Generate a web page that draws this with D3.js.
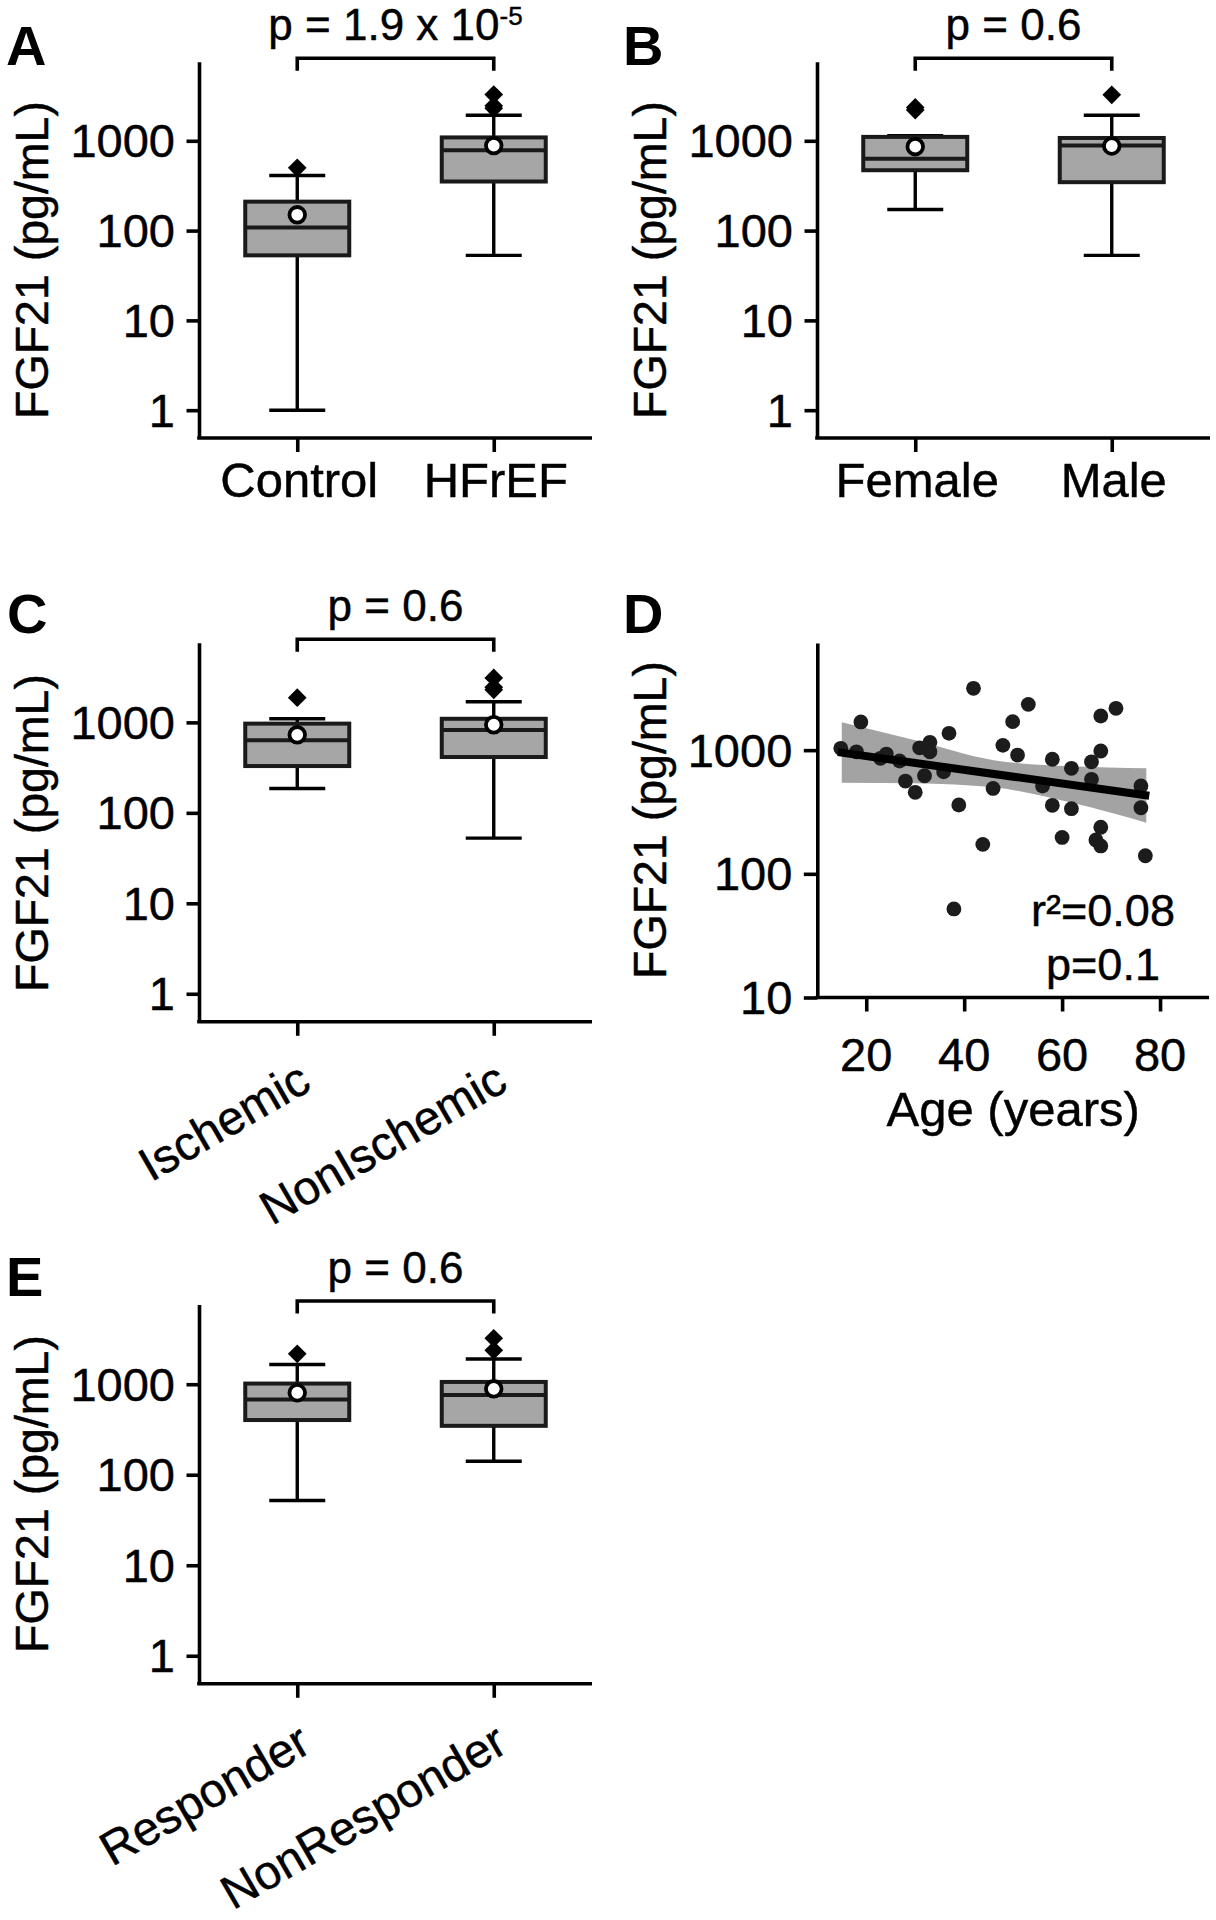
<!DOCTYPE html>
<html><head><meta charset="utf-8">
<script src="https://cdn.jsdelivr.net/npm/d3@7"></script>
<style>html,body{margin:0;padding:0;background:#fff}</style>
</head><body>
<svg id="fig" width="1216" height="1920"></svg>
<script>
// ---------------- data ----------------
const yTickValues = [1, 10, 100, 1000];
const yTickLabels = ["1", "10", "100", "1000"];
const yDomain = [0.49, 7600];

// five-number summaries per category: [whiskerLow, Q1, median, Q3, whiskerHigh]
const catsA = ["Control", "HFrEF"];
const fiveA = [[1, 53, 108, 210, 411], [53, 352, 783, 1090, 1924]];
const meanA = [150, 885];
const outA = [[500], [2300, 2450, 3270]];
const pTextA = "p = 1.9 x 10";
const pSupA = "-5";

const catsB = ["Female", "Male"];
const fiveB = [[172, 470, 633, 1105, 1143], [53, 346, 885, 1075, 1924]];
const meanB = [860, 875];
const outB = [[2200, 2350], [3250]];
const pTextB = "p = 0.6";

const catsC = ["Ischemic", "NonIschemic"];
const fiveC = [[186, 329, 633, 969, 1096], [52.5, 414, 826, 1096, 1693]];
const meanC = [729, 941];
const outC = [[1875], [2290, 2450, 3100]];
const pTextC = "p = 0.6";

const catsE = ["Responder", "NonResponder"];
const fiveE = [[52, 402, 676, 1017, 1650], [141, 347, 762, 1060, 1900]];
const meanE = [805, 890];
const outE = [[2170], [2370, 3220]];
const pTextE = "p = 0.6";

// panel D scatter
const ageD = [14.8, 18.9, 18.0, 22.9, 24.1, 26.8, 28.0, 30.0, 30.9, 31.9, 33.0, 33.0, 35.8, 36.9, 38.9, 37.9,
              41.9, 43.8, 45.9, 47.9, 49.9, 50.9, 53.1, 56.0, 58.0, 58.0, 61.9, 61.9, 60.0, 66.0, 66.0, 67.9,
              67.9, 71.0, 67.9, 66.9, 67.9, 76.1, 76.1, 77.0];
const fgfD = [1035, 1690, 970, 859, 929, 817, 562, 456, 1045, 621, 1156, 970, 669, 1368, 360, 52,
              3160, 173, 490, 1093, 1700, 912, 2345, 513, 844, 358, 713, 336, 197, 805, 581, 984,
              1888, 2178, 238, 188, 168, 513, 342, 140];
const fitAge = [14.2, 77.8];
const fitVal = [964, 428];
const ciAge = [15, 30, 46, 62, 77.2];
const ciUpper = [1680, 1200, 830, 740, 713];
const ciLower = [546, 540, 500, 375, 259];
const xTicksD = [20, 40, 60, 80];
const yTicksD = [10, 100, 1000];
const statsD = ["r\u00b2=0.08", "p=0.1"];

// ---------------- drawing ----------------
const FONT = '"Liberation Sans", Arial, Helvetica, sans-serif';
const svg = d3.select("#fig").style("font-family", FONT);
const BOXFILL = "#a6a6a6", DARK = "#1a1a1a";

function txt(g, x, y, s, size, opts = {}) {
  const t = g.append("text").attr("x", x).attr("y", y).text(s)
    .attr("font-size", size).attr("fill", "#000")
    .attr("stroke", "#000").attr("stroke-width", opts.weight ? 0 : 0.45)
    .attr("text-anchor", opts.anchor || "start");
  if (opts.weight) t.attr("font-weight", opts.weight);
  if (opts.transform) t.attr("transform", opts.transform);
  return t;
}

function styleAxis(ax) {
  ax.select(".domain").attr("stroke", "#000").attr("stroke-width", 3.6);
  ax.selectAll(".tick line").attr("stroke", "#000").attr("stroke-width", 3.6);
  ax.selectAll(".tick text").remove();
}

function boxPanel(o) {
  const g = svg.append("g");
  const x = d3.scalePoint().domain(o.cats).range([o.x0, o.x1]).padding(0.5);
  const y = d3.scaleLog().domain(yDomain).range([o.y1, o.y0]);

  // y axis
  const ay = g.append("g").attr("transform", `translate(${o.x0},0)`)
    .call(d3.axisLeft(y).tickValues(yTickValues).tickSize(12.5).tickSizeOuter(0));
  styleAxis(ay);
  yTickValues.forEach((v, i) => {
    txt(g, o.x0 - 24, y(v) + 16.5, yTickLabels[i], 47, {anchor: "end"});
  });
  // x axis
  const ax = g.append("g").attr("transform", `translate(0,${o.y1})`)
    .call(d3.axisBottom(x).tickSize(14).tickSizeOuter(0));
  styleAxis(ax);
  ax.select(".domain").attr("d", `M${o.x0 - 1.8},0H${o.x1}`);

  // category labels
  o.cats.forEach(c => {
    if (o.rotate) {
      txt(g, 0, 0, c, 47.5, {anchor: "end",
        transform: `translate(${x(c) + 16},${o.y1 + 67}) rotate(-30)`});
    } else {
      txt(g, x(c) + 2, o.y1 + 59, c, 49, {anchor: "middle"});
    }
  });

  // y label
  txt(g, 0, 0, "FGF21 (pg/mL)", 46.5, {anchor: "middle",
    transform: `translate(${o.x0 - 151},${o.ylc}) rotate(-90)`});

  // panel letter
  txt(g, o.lx, o.ly, o.letter, 56, {weight: "bold"});

  // boxes
  const hw = 52, cw = 28;
  o.cats.forEach((c, i) => {
    const cx = x(c), f = o.five[i];
    g.append("line").attr("x1", cx).attr("x2", cx).attr("y1", y(f[0])).attr("y2", y(f[4]))
      .attr("stroke", "#000").attr("stroke-width", 3.4);
    [f[0], f[4]].forEach(v => g.append("line").attr("x1", cx - cw).attr("x2", cx + cw)
      .attr("y1", y(v)).attr("y2", y(v)).attr("stroke", "#000").attr("stroke-width", 3.4));
    g.append("rect").attr("x", cx - hw).attr("width", 2 * hw)
      .attr("y", y(f[3])).attr("height", y(f[1]) - y(f[3]))
      .attr("fill", BOXFILL).attr("stroke", DARK).attr("stroke-width", 4);
    g.append("line").attr("x1", cx - hw).attr("x2", cx + hw).attr("y1", y(f[2])).attr("y2", y(f[2]))
      .attr("stroke", DARK).attr("stroke-width", 4);
    o.outs[i].forEach(v => g.append("path")
      .attr("d", d3.symbol(d3.symbolSquare, 175)())
      .attr("transform", `translate(${cx},${y(v)}) rotate(45)`).attr("fill", "#000"));
    g.append("circle").attr("cx", cx).attr("cy", y(o.mean[i])).attr("r", 7.8)
      .attr("fill", "#fff").attr("stroke", "#000").attr("stroke-width", 3.8);
  });

  // significance bracket
  const bx0 = x(o.cats[0]), bx1 = x(o.cats[1]), by = o.y0 - 3.5;
  g.append("path").attr("d", `M${bx0},${by + 12.5}V${by}H${bx1}V${by + 12.5}`)
    .attr("fill", "none").attr("stroke", "#000").attr("stroke-width", 3.6);
  const pt = txt(g, (bx0 + bx1) / 2, by - 18, o.pText, 44, {anchor: "middle"});
  if (o.pSup) pt.append("tspan").attr("dy", -15).attr("font-size", 26).text(o.pSup);
}

boxPanel({x0: 199, x1: 592, y0: 61.7, y1: 438, ylc: 260, cats: catsA, five: fiveA, mean: meanA, outs: outA,
  pText: pTextA, pSup: pSupA, letter: "A", lx: 6, ly: 65});
boxPanel({x0: 817, x1: 1210, y0: 61.7, y1: 438, ylc: 260, cats: catsB, five: fiveB, mean: meanB, outs: outB,
  pText: pTextB, letter: "B", lx: 623, ly: 65});
boxPanel({x0: 199, x1: 592, y0: 642.7, y1: 1021.8, ylc: 833, cats: catsC, five: fiveC, mean: meanC, outs: outC,
  pText: pTextC, letter: "C", lx: 7, ly: 633, rotate: true});
boxPanel({x0: 199, x1: 592, y0: 1304.5, y1: 1683.8, ylc: 1494, cats: catsE, five: fiveE, mean: meanE, outs: outE,
  pText: pTextE, letter: "E", lx: 6, ly: 1296, rotate: true});

// ---------- panel D ----------
(function () {
  const x0 = 817.3, x1 = 1209, y0 = 643, y1 = 997.5;
  const g = svg.append("g");
  const x = d3.scaleLinear().domain([10, 90]).range([x0, x1]);
  const y = d3.scaleLog().domain([10, 7350]).range([y1, y0]);

  const ay = g.append("g").attr("transform", `translate(${x0},0)`)
    .call(d3.axisLeft(y).tickValues(yTicksD).tickSize(13.5).tickSizeOuter(0));
  styleAxis(ay);
  yTicksD.forEach(v => txt(g, x0 - 25, y(v) + 16.5, String(v), 47, {anchor: "end"}));
  const ax = g.append("g").attr("transform", `translate(0,${y1})`)
    .call(d3.axisBottom(x).tickValues(xTicksD).tickSize(14).tickSizeOuter(0));
  styleAxis(ax);
  ax.select(".domain").attr("d", `M${x0 - 1.8},0H${x1}`);
  xTicksD.forEach(v => txt(g, x(v), y1 + 73, String(v), 47, {anchor: "middle"}));
  txt(g, (x0 + x1) / 2, 1126, "Age (years)", 49, {anchor: "middle"});
  txt(g, 0, 0, "FGF21 (pg/mL)", 46.5, {anchor: "middle",
    transform: `translate(${x0 - 151},820) rotate(-90)`});
  txt(g, 623, 633, "D", 56, {weight: "bold"});

  const area = d3.area().x((d, i) => x(ciAge[i])).y0((d, i) => y(ciLower[i])).y1((d, i) => y(ciUpper[i]))
    .curve(d3.curveMonotoneX);
  g.append("path").attr("d", area(ciAge)).attr("fill", "#a3a3a3");
  g.selectAll("circle.pt").data(ageD).join("circle").attr("class", "pt")
    .attr("cx", d => x(d)).attr("cy", (d, i) => y(fgfD[i])).attr("r", 7.4).attr("fill", "#1c1c1c");
  g.append("line").attr("x1", x(fitAge[0])).attr("x2", x(fitAge[1]))
    .attr("y1", y(fitVal[0])).attr("y2", y(fitVal[1])).attr("stroke", "#000").attr("stroke-width", 8);
  txt(g, 1103, 926, statsD[0], 45, {anchor: "middle"});
  txt(g, 1103, 980, statsD[1], 45, {anchor: "middle"});
})();
</script>
</body></html>
